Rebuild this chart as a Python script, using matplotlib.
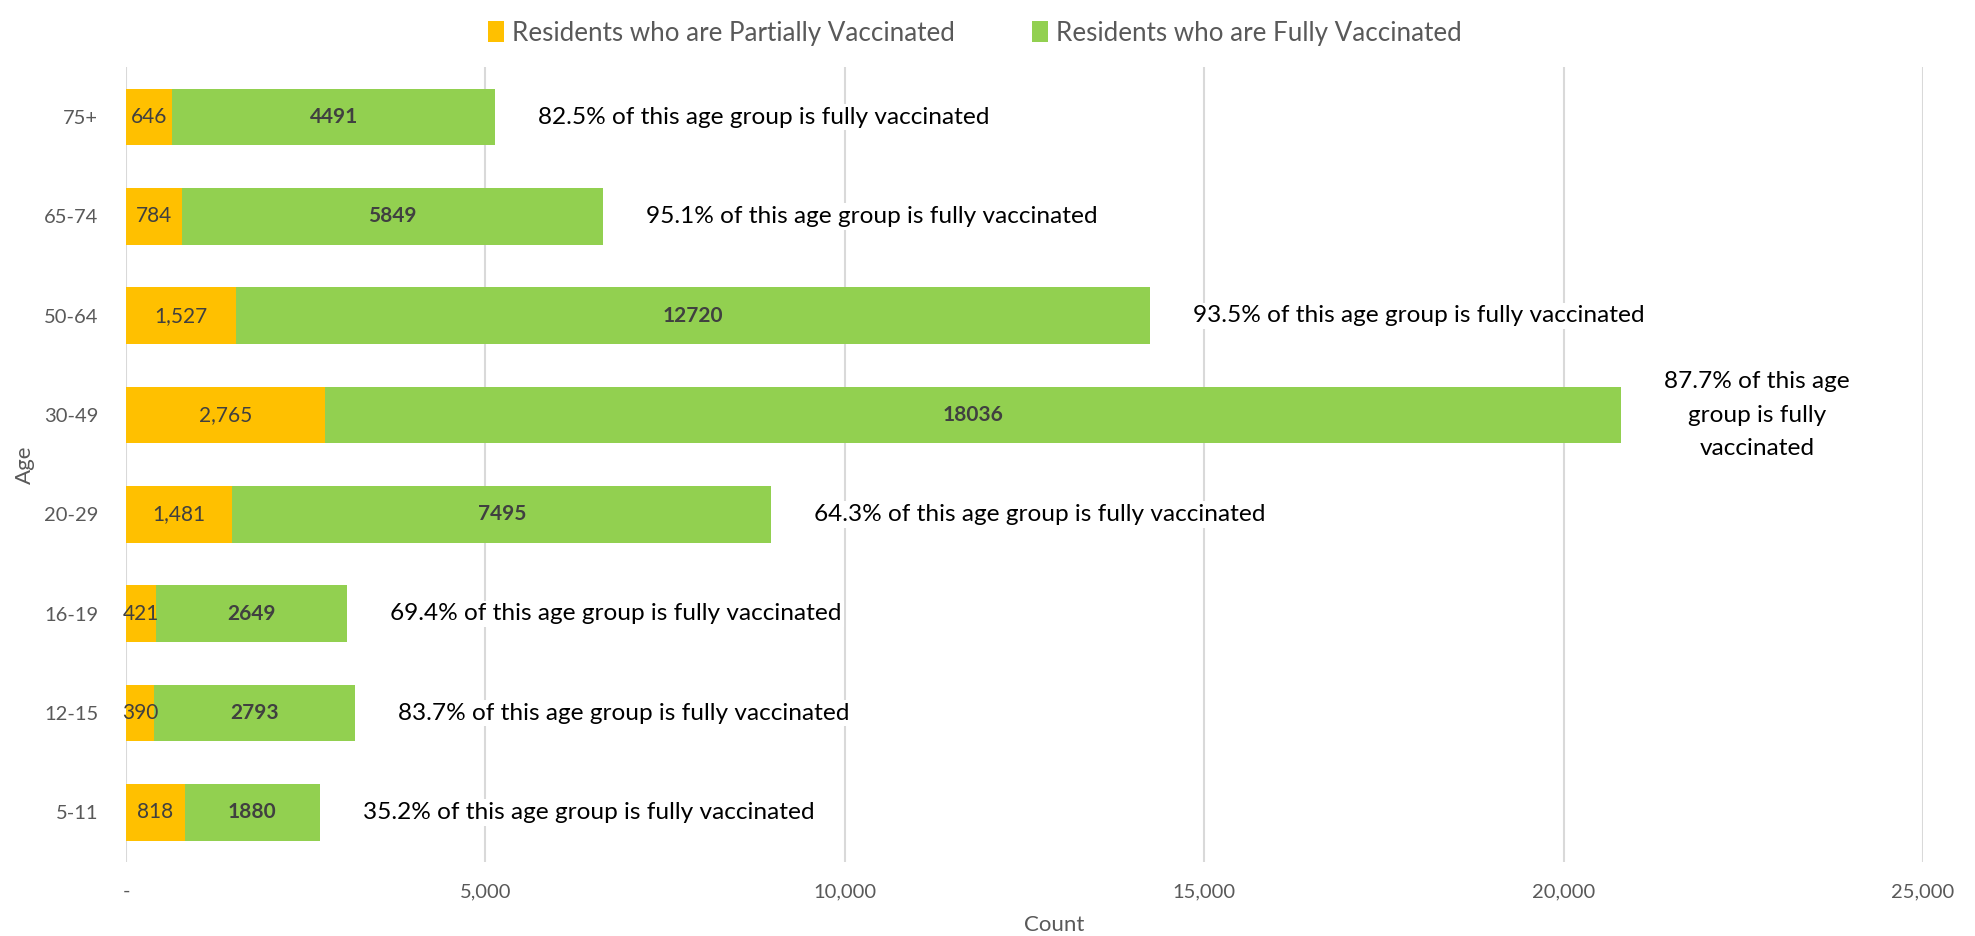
import matplotlib
matplotlib.use("Agg")
import matplotlib.pyplot as plt
from matplotlib.ticker import FuncFormatter

plt.rcParams['font.family'] = ['Lato', 'DejaVu Sans']

ages = ["5-11", "12-15", "16-19", "20-29", "30-49", "50-64", "65-74", "75+"]
partial = [818, 390, 421, 1481, 2765, 1527, 784, 646]
full = [1880, 2793, 2649, 7495, 18036, 12720, 5849, 4491]
pct_labels = ["35.2% of this age group is fully vaccinated",
              "83.7% of this age group is fully vaccinated",
              "69.4% of this age group is fully vaccinated",
              "64.3% of this age group is fully vaccinated",
              "87.7% of this age\ngroup is fully\nvaccinated",
              "93.5% of this age group is fully vaccinated",
              "95.1% of this age group is fully vaccinated",
              "82.5% of this age group is fully vaccinated"]
xticks = [0, 5000, 10000, 15000, 20000, 25000]

YELLOW = "#FFC000"
GREEN = "#92D050"
GRAY = "#595959"
DARK = "#404040"

fig = plt.figure(figsize=(19.75, 9.36), dpi=100)
ax = fig.add_axes([0.0638, 0.079, 0.9099, 0.849])

y = list(range(len(ages)))
b1 = ax.barh(y, partial, height=0.57, color=YELLOW, label="Residents who are Partially Vaccinated", zorder=2)
b2 = ax.barh(y, full, left=partial, height=0.57, color=GREEN, label="Residents who are Fully Vaccinated", zorder=2)

for i in y:
    ax.text(partial[i] / 2, i, f"{partial[i]:,}", ha='center', va='center',
            fontsize=15, color=DARK, zorder=3)
    ax.text(partial[i] + full[i] / 2, i, f"{full[i]}", ha='center', va='center',
            fontsize=15, color=DARK, fontweight='bold', zorder=3)
    tot = partial[i] + full[i]
    ax.annotate(pct_labels[i], xy=(tot, i), xytext=(31, 0), textcoords='offset points',
                ha='left', va='center', multialignment='center', fontsize=17.6,
                color='black', zorder=4, linespacing=1.72,
                bbox=dict(facecolor='white', edgecolor='none', pad=2))

ax.set_xlim(0, 25000)
ax.set_ylim(-0.5, len(ages) - 0.5)
ax.set_xticks(xticks)
ax.xaxis.set_major_formatter(FuncFormatter(lambda v, p: "-" if v == 0 else f"{int(v):,}"))
ax.set_yticks(y)
ax.set_yticklabels(ages)
ax.tick_params(axis='both', length=0, labelsize=14.5, colors=GRAY)
ax.tick_params(axis='x', pad=15)
ax.tick_params(axis='y', pad=20)
ax.grid(axis='x', color="#D9D9D9", linewidth=1.5, zorder=0)
ax.set_axisbelow(True)
for s in ax.spines.values():
    s.set_visible(False)

ax.set_xlabel("Count", fontsize=16, color=GRAY)
ax.xaxis.set_label_coords((0.534 - 0.0638) / 0.9099, -0.066)
ax.xaxis.label.set_va('top')
ax.set_ylabel("Age", fontsize=16, color=GRAY, labelpad=6)

fig.legend(handles=[b1, b2], loc='upper center', bbox_to_anchor=(0.4936, 1.003), ncol=2,
           frameon=False, fontsize=18.7, handlelength=0.6, handleheight=0.9,
           columnspacing=3.0, handletextpad=0.3, labelcolor=GRAY)

fig.savefig("out.png", dpi=100)
